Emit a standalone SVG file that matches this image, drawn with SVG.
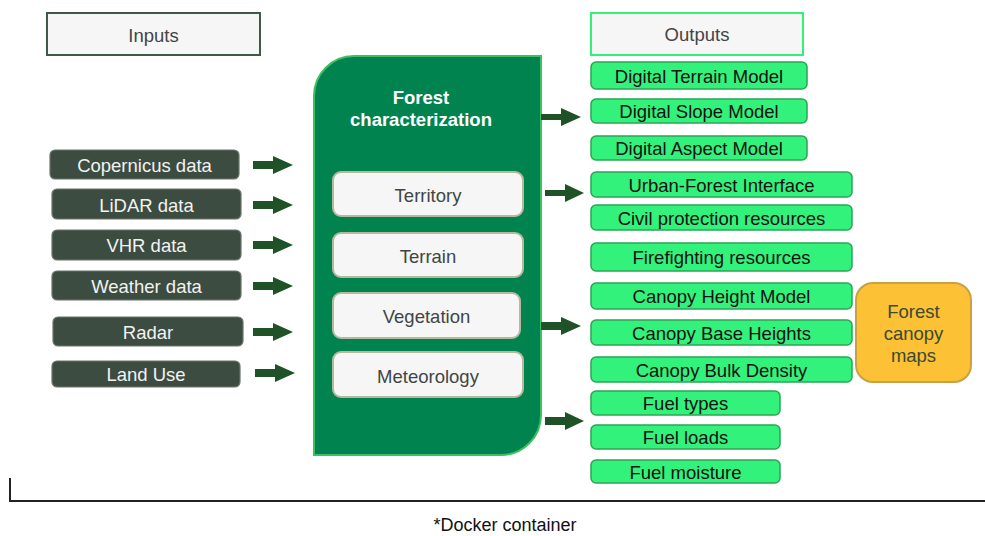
<svg xmlns="http://www.w3.org/2000/svg" width="985" height="536" viewBox="0 0 985 536">
<defs>
<style>
text{font-family:"Liberation Sans",Arial,sans-serif;text-anchor:middle;dominant-baseline:central}
.hdr{fill:#f6f6f6;stroke-width:2}
.hdrt{font-size:18.5px;fill:#444}
.in{fill:#3c4c40;stroke:#6a756c;stroke-width:1.2}
.int{font-size:18.5px;fill:#f2f2f2}
.sub{fill:#f6f6f6;stroke:#b8b89e;stroke-width:2}
.subt{font-size:18.5px;fill:#404545}
.out{fill:#33f27b;stroke:#2aa557;stroke-width:1.5}
.outt{font-size:18.5px;fill:#111}
.arr{fill:#1f5227}
</style>
</defs>
<rect width="985" height="536" fill="#ffffff"/>

<g id="inputs-header">
<rect class="hdr" x="47" y="13" width="213" height="42" stroke="#3d5a47"/>
<text class="hdrt" x="153.5" y="35">Inputs</text>
</g>

<g id="in-copernicus"><rect class="in" x="50" y="150" width="189" height="29" rx="5"/><text class="int" x="144.5" y="165">Copernicus data</text></g>
<g id="in-lidar"><rect class="in" x="52" y="189" width="189" height="30" rx="5"/><text class="int" x="146.5" y="205">LiDAR data</text></g>
<g id="in-vhr"><rect class="in" x="52" y="230" width="189" height="30" rx="5"/><text class="int" x="146.5" y="245">VHR data</text></g>
<g id="in-weather"><rect class="in" x="52" y="271" width="189" height="29" rx="5"/><text class="int" x="146.5" y="286">Weather data</text></g>
<g id="in-radar"><rect class="in" x="53" y="317" width="190" height="29" rx="5"/><text class="int" x="148" y="332">Radar</text></g>
<g id="in-landuse"><rect class="in" x="52" y="361" width="188" height="26" rx="5"/><text class="int" x="146" y="374">Land Use</text></g>

<g id="forest-characterization">
<path d="M354,56 H541 V415 A40,40 0 0 1 501,455 H314 V96 A40,40 0 0 1 354,56 Z" fill="#00834f" stroke="#3cc063" stroke-width="2"/>
<text x="421" y="97" font-size="18.5" font-weight="bold" fill="#ffffff">Forest</text>
<text x="421" y="119" font-size="18.5" font-weight="bold" fill="#ffffff">characterization</text>
</g>
<g id="sub-territory"><rect class="sub" x="333" y="172" width="190" height="44" rx="8"/><text class="subt" x="428" y="195">Territory</text></g>
<g id="sub-terrain"><rect class="sub" x="333" y="233" width="190" height="44" rx="8"/><text class="subt" x="428" y="256">Terrain</text></g>
<g id="sub-vegetation"><rect class="sub" x="333" y="293" width="187" height="45" rx="8"/><text class="subt" x="426.5" y="316">Vegetation</text></g>
<g id="sub-meteorology"><rect class="sub" x="333" y="352" width="190" height="45" rx="8"/><text class="subt" x="428" y="376">Meteorology</text></g>

<g id="outputs-header">
<rect class="hdr" x="591" y="13" width="212" height="42" stroke="#33f07a"/>
<text class="hdrt" x="697" y="34">Outputs</text>
</g>

<g id="out-dtm"><rect class="out" x="591" y="62" width="216" height="27" rx="5"/><text class="outt" x="699" y="76">Digital Terrain Model</text></g>
<g id="out-dsm"><rect class="out" x="591" y="99" width="216" height="24" rx="5"/><text class="outt" x="699" y="111.5">Digital Slope Model</text></g>
<g id="out-dam"><rect class="out" x="591" y="136" width="216" height="24" rx="5"/><text class="outt" x="699" y="148.5">Digital Aspect Model</text></g>
<g id="out-ufi"><rect class="out" x="591" y="172" width="261" height="25" rx="5"/><text class="outt" x="721.5" y="185">Urban-Forest Interface</text></g>
<g id="out-civil"><rect class="out" x="591" y="205" width="261" height="25" rx="5"/><text class="outt" x="721.5" y="218">Civil protection resources</text></g>
<g id="out-firefighting"><rect class="out" x="591" y="243" width="261" height="28" rx="5"/><text class="outt" x="721.5" y="257.5">Firefighting resources</text></g>
<g id="out-chm"><rect class="out" x="591" y="283" width="261" height="26" rx="5"/><text class="outt" x="721.5" y="296.5">Canopy Height Model</text></g>
<g id="out-cbh"><rect class="out" x="591" y="320" width="261" height="25" rx="5"/><text class="outt" x="721.5" y="333">Canopy Base Heights</text></g>
<g id="out-cbd"><rect class="out" x="591" y="357" width="261" height="25" rx="5"/><text class="outt" x="721.5" y="370">Canopy Bulk Density</text></g>
<g id="out-fueltypes"><rect class="out" x="591" y="391" width="189" height="24" rx="5"/><text class="outt" x="685.5" y="403.5">Fuel types</text></g>
<g id="out-fuelloads"><rect class="out" x="591" y="425" width="189" height="24" rx="5"/><text class="outt" x="685.5" y="437.5">Fuel loads</text></g>
<g id="out-fuelmoisture"><rect class="out" x="591" y="460" width="189" height="23" rx="5"/><text class="outt" x="685.5" y="472">Fuel moisture</text></g>

<g id="forest-canopy-maps">
<rect x="856" y="283" width="115" height="99" rx="17" fill="#fcc134" stroke="#c9a143" stroke-width="2"/>
<text x="913.5" y="311" font-size="18.5" fill="#3b4a30">Forest</text>
<text x="913.5" y="333" font-size="18.5" fill="#3b4a30">canopy</text>
<text x="913.5" y="355" font-size="18.5" fill="#3b4a30">maps</text>
</g>

<g id="connectors">
<path class="arr" d="M253,161 H273 V156 L293,165 L273,174 V169 H253 Z"/>
<path class="arr" d="M253,201 H273 V196 L293,205 L273,214 V209 H253 Z"/>
<path class="arr" d="M253,241 H273 V236 L293,245 L273,254 V249 H253 Z"/>
<path class="arr" d="M253,282 H273 V277 L293,286 L273,295 V290 H253 Z"/>
<path class="arr" d="M253,328 H273 V323 L293,332 L273,341 V336 H253 Z"/>
<path class="arr" d="M255,369 H275 V364 L295,373 L275,382 V377 H255 Z"/>
<path class="arr" d="M541,114 H561 V108 L581,117 L561,126 V120 H541 Z"/>
<path class="arr" d="M545,190 H565 V184 L584,193 L565,202 V196 H545 Z"/>
<path class="arr" d="M541,322 H561 V317 L581,326 L561,335 V330 H541 Z"/>
<path class="arr" d="M545,417 H565 V412 L584,421 L565,430 V425 H545 Z"/>
</g>

<g id="docker-container">
<path d="M10,478 V501 H985" fill="none" stroke="#222" stroke-width="2"/>
<text x="505" y="525" font-size="18" fill="#111">*Docker container</text>
</g>
</svg>
